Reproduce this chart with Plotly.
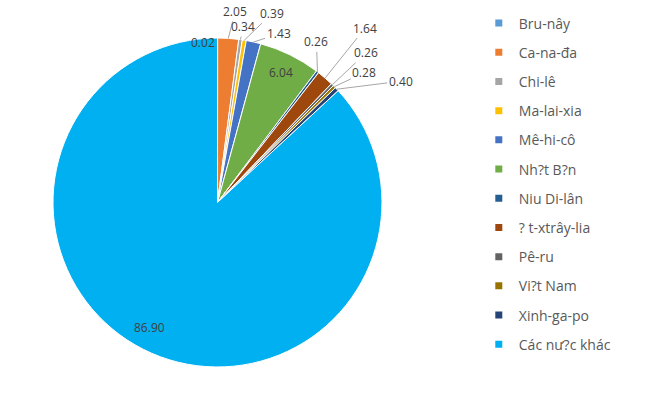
import math
import plotly.graph_objects as go

labels = ["Bru-nây", "Ca-na-đa", "Chi-lê", "Ma-lai-xia", "Mê-hi-cô", "Nh?t B?n",
          "Niu Di-lân", "? t-xtrây-lia", "Pê-ru", "Vi?t Nam", "Xinh-ga-po", "Các nư?c khác"]
values = [0.02, 2.05, 0.34, 0.39, 1.43, 6.04, 0.26, 1.64, 0.26, 0.28, 0.40, 86.90]
colors = ["#5B9BD5", "#ED7D31", "#A5A5A5", "#FFC000", "#4472C4", "#70AD47",
          "#255E91", "#9E480E", "#636363", "#997300", "#264478", "#00B0F0"]

# label placement (layout only): radius factor, pixel offsets of the text from the anchor
label_r = [1, 1, 1, 1, 1, 0.88, 1, 1, 1, 1, 1, 0.86]
label_ax = [-15, 7, 2, 28, 25, 0, -1, 40, 34, 30, 64, -11]
label_ay = [4, -27, -13, -27, -8, 0, -30, -50, -32, -14, -8, -5]
label_arrow = [False, True, True, True, True, False, True, True, True, True, True, False]

W, H = 665, 393
dom_x = [0.0797, 0.5744]
dom_y = [0.0662, 0.9033]

fig = go.Figure()
fig.add_trace(go.Pie(
    labels=labels,
    values=values,
    sort=False,
    direction="clockwise",
    rotation=0,
    marker=dict(colors=colors, line=dict(color="white", width=1)),
    textinfo="none",
    hoverinfo="label+value",
    domain=dict(x=dom_x, y=dom_y),
    showlegend=False,
))

# legend entries (one per category, spaced like the original)
for i, (lab, col) in enumerate(zip(labels, colors)):
    fig.add_trace(go.Scatter(
        x=[None], y=[None], mode="markers", name=lab,
        marker=dict(symbol="square", size=7, color=col),
        legendgroup=f"g{i}", showlegend=True,
    ))

# data labels computed from the values (mid-angle of each slice)
total = sum(values)
cx_px = W * (dom_x[0] + dom_x[1]) / 2
cy_px = H * (1 - (dom_y[0] + dom_y[1]) / 2)
r_px = min(W * (dom_x[1] - dom_x[0]), H * (dom_y[1] - dom_y[0])) / 2
cum = 0.0
annotations = []
lab_font = dict(size=12, color="#404040", family="Open Sans")
for i, v in enumerate(values):
    mid = (cum + v / 2) / total * 2 * math.pi
    cum += v
    rr = r_px * label_r[i]
    px = cx_px + rr * math.sin(mid)
    py = cy_px - rr * math.cos(mid)
    if label_arrow[i]:
        annotations.append(dict(
            x=px / W, y=1 - py / H, xref="paper", yref="paper",
            text=f"{v:.2f}", showarrow=True, arrowhead=0, arrowwidth=1,
            arrowcolor="#A6A6A6", standoff=0, ax=label_ax[i], ay=label_ay[i],
            font=lab_font,
        ))
    else:
        annotations.append(dict(
            x=px / W, y=1 - py / H, xref="paper", yref="paper",
            xanchor="center", yanchor="middle",
            text=f"{v:.2f}", showarrow=False,
            xshift=label_ax[i], yshift=-label_ay[i],
            font=lab_font,
        ))

fig.update_layout(
    width=W, height=H,
    margin=dict(l=0, r=0, t=0, b=0),
    paper_bgcolor="white",
    plot_bgcolor="white",
    font=dict(family="Open Sans", color="#595959"),
    xaxis=dict(visible=False),
    yaxis=dict(visible=False),
    annotations=annotations,
    showlegend=True,
    legend=dict(x=0.720, y=0.981, xanchor="left", yanchor="top",
                font=dict(size=14, color="#595959", family="Open Sans"),
                tracegroupgap=8, bgcolor="rgba(0,0,0,0)"),
)

fig.write_html("out.html", config={"displayModeBar": False},
               post_script="document.body.style.margin='0';")
